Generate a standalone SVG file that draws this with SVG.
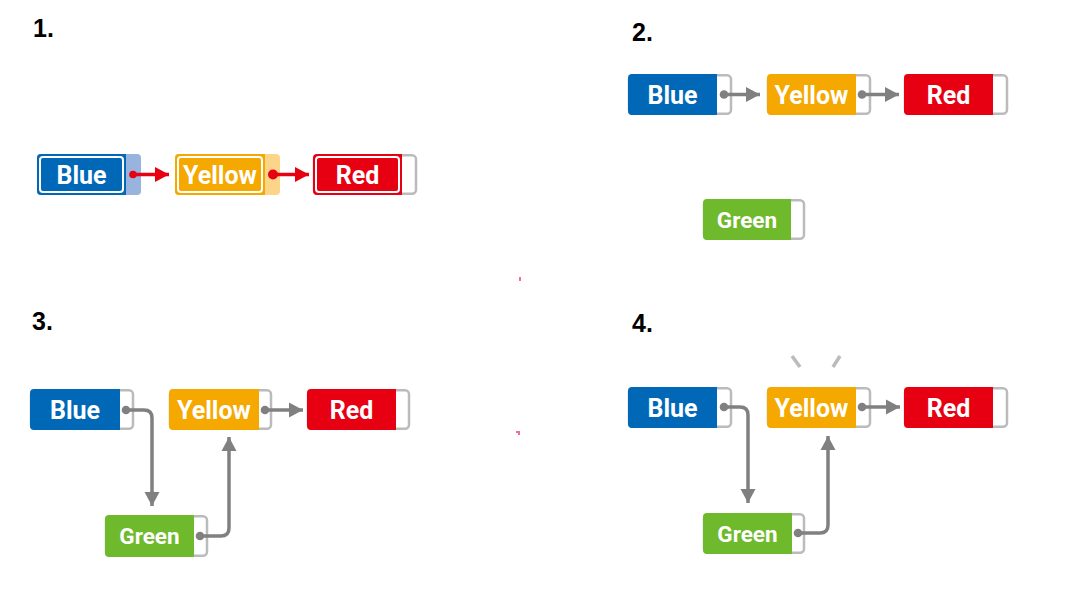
<svg xmlns="http://www.w3.org/2000/svg" width="1070" height="611" viewBox="0 0 1070 611">
<style>
.num{font-family:"Liberation Sans",Arial,sans-serif;font-weight:bold;font-size:25px;fill:#000}
.lbl{font-family:Roboto,"DejaVu Sans",sans-serif;font-weight:bold;font-size:25px;fill:#fff;text-anchor:middle}
.lbls{font-family:Roboto,"DejaVu Sans",sans-serif;font-weight:bold;font-size:22.5px;fill:#fff;text-anchor:middle}
.ptr{fill:#fff;stroke:#bbb;stroke-width:2.5}
.blue{fill:#0068b7}.yellow{fill:#f5a800}.red{fill:#e60012}.green{fill:#6fb92c}
.inner{fill:none;stroke:#fff;stroke-width:2}
.con{fill:none;stroke:#808080;stroke-width:3.5;marker-start:url(#dot);marker-end:url(#arr)}
.conr{fill:none;stroke:#e60012;stroke-width:3.5;marker-end:url(#arrr)}
.spark{stroke:#bbb;stroke-width:3.5}
</style>
<defs>
<marker id="dot" markerUnits="userSpaceOnUse" markerWidth="10" markerHeight="10" refX="5" refY="5" orient="auto" overflow="visible"><circle cx="5" cy="5" r="4.3" fill="#808080"/></marker>
<marker id="arr" markerUnits="userSpaceOnUse" markerWidth="15" markerHeight="15" refX="14" refY="7.5" orient="auto" overflow="visible"><path d="M0,0 L14,7.5 L0,15 Z" fill="#808080"/></marker>
<marker id="arrr" markerUnits="userSpaceOnUse" markerWidth="15" markerHeight="15" refX="14" refY="7.5" orient="auto" overflow="visible"><path d="M0,0 L14,7.5 L0,15 Z" fill="#e60012"/></marker>
</defs>

<text class="num" x="33" y="37">1.</text>
<text class="num" x="632" y="41">2.</text>
<text class="num" x="32" y="330">3.</text>
<text class="num" x="632" y="332">4.</text>

<!-- Panel 1 -->
<g id="p1-blue">
<rect x="37" y="154" width="104" height="41" rx="4" fill="#98b3dd"/>
<path d="M41,154 H126 V195 H41 A4,4 0 0 1 37,191 V158 A4,4 0 0 1 41,154 Z" class="blue"/>
<rect x="40" y="157" width="83" height="35" rx="3" class="inner"/>
<text class="lbl" x="81.5" y="183.5">Blue</text>
</g>
<g id="p1-yellow">
<rect x="175" y="154" width="105" height="41" rx="4" fill="#fcd588"/>
<path d="M179,154 H265 V195 H179 A4,4 0 0 1 175,191 V158 A4,4 0 0 1 179,154 Z" class="yellow"/>
<rect x="178" y="157" width="84" height="35" rx="3" class="inner"/>
<text class="lbl" x="220" y="183.5">Yellow</text>
</g>
<g id="p1-red">
<rect x="314" y="155.25" width="102" height="38.5" rx="4" class="ptr"/>
<path d="M317,154 H402 V195 H317 A4,4 0 0 1 313,191 V158 A4,4 0 0 1 317,154 Z" class="red"/>
<rect x="316" y="157" width="83" height="35" rx="3" class="inner"/>
<text class="lbl" x="357.5" y="183.5">Red</text>
</g>
<g id="p1-connectors">
<path class="conr" d="M133,174.5 H169"/>
<circle cx="133" cy="174.5" r="3.8" fill="#e60012"/>
<path class="conr" d="M273,174.5 H309"/>
<circle cx="273" cy="174.5" r="5" fill="#e60012"/>
</g>

<!-- Panel 2 -->
<g id="p2-blue">
<rect x="629" y="75.25" width="102" height="38.5" rx="4" class="ptr"/>
<path d="M632,74 H717 V115 H632 A4,4 0 0 1 628,111 V78 A4,4 0 0 1 632,74 Z" class="blue"/>
<text class="lbl" x="672.5" y="103.5">Blue</text>
</g>
<g id="p2-yellow">
<rect x="768" y="75.25" width="102" height="38.5" rx="4" class="ptr"/>
<path d="M771,74 H856 V115 H771 A4,4 0 0 1 767,111 V78 A4,4 0 0 1 771,74 Z" class="yellow"/>
<text class="lbl" x="811.5" y="103.5">Yellow</text>
</g>
<g id="p2-red">
<rect x="905" y="75.25" width="102" height="38.5" rx="4" class="ptr"/>
<path d="M908,74 H993 V115 H908 A4,4 0 0 1 904,111 V78 A4,4 0 0 1 908,74 Z" class="red"/>
<text class="lbl" x="948.5" y="103.5">Red</text>
</g>
<g id="p2-green">
<rect x="704" y="200.25" width="100" height="38.5" rx="4" class="ptr"/>
<path d="M707,199 H791 V240 H707 A4,4 0 0 1 703,236 V203 A4,4 0 0 1 707,199 Z" class="green"/>
<text class="lbls" x="747" y="227.5">Green</text>
</g>
<g id="p2-connectors">
<path class="con" d="M724,94.5 H760"/>
<path class="con" d="M862,94.5 H899"/>
</g>

<!-- Panel 3 -->
<g id="p3-blue">
<rect x="31" y="390.25" width="102" height="38.5" rx="4" class="ptr"/>
<path d="M34,389 H120 V430 H34 A4,4 0 0 1 30,426 V393 A4,4 0 0 1 34,389 Z" class="blue"/>
<text class="lbl" x="75" y="418.5">Blue</text>
</g>
<g id="p3-yellow">
<rect x="170" y="390.25" width="101" height="38.5" rx="4" class="ptr"/>
<path d="M173,389 H259 V430 H173 A4,4 0 0 1 169,426 V393 A4,4 0 0 1 173,389 Z" class="yellow"/>
<text class="lbl" x="214" y="418.5">Yellow</text>
</g>
<g id="p3-red">
<rect x="308" y="390.25" width="101" height="38.5" rx="4" class="ptr"/>
<path d="M311,389 H396 V430 H311 A4,4 0 0 1 307,426 V393 A4,4 0 0 1 311,389 Z" class="red"/>
<text class="lbl" x="351.5" y="418.5">Red</text>
</g>
<g id="p3-green">
<rect x="106" y="516.25" width="101" height="39.5" rx="4" class="ptr"/>
<path d="M109,515 H194 V557 H109 A4,4 0 0 1 105,553 V519 A4,4 0 0 1 109,515 Z" class="green"/>
<text class="lbls" x="149.5" y="544">Green</text>
</g>
<g id="p3-connectors">
<path class="con" d="M126,410 H144 Q152,410 152,418 V506"/>
<path class="con" d="M200,536 H221 Q229,536 229,528 V437"/>
<path class="con" d="M265,410 H303"/>
</g>

<!-- Panel 4 -->
<g id="p4-blue">
<rect x="629" y="388.25" width="102" height="38.5" rx="4" class="ptr"/>
<path d="M632,387 H717 V428 H632 A4,4 0 0 1 628,424 V391 A4,4 0 0 1 632,387 Z" class="blue"/>
<text class="lbl" x="672.5" y="416.5">Blue</text>
</g>
<g id="p4-yellow">
<rect x="768" y="388.25" width="102" height="38.5" rx="4" class="ptr"/>
<path d="M771,387 H856 V428 H771 A4,4 0 0 1 767,424 V391 A4,4 0 0 1 771,387 Z" class="yellow"/>
<text class="lbl" x="811.5" y="416.5">Yellow</text>
</g>
<g id="p4-red">
<rect x="905" y="388.25" width="102" height="38.5" rx="4" class="ptr"/>
<path d="M908,387 H993 V428 H908 A4,4 0 0 1 904,424 V391 A4,4 0 0 1 908,387 Z" class="red"/>
<text class="lbl" x="948.5" y="416.5">Red</text>
</g>
<g id="p4-green">
<rect x="704" y="514.25" width="100" height="38.5" rx="4" class="ptr"/>
<path d="M707,513 H792 V554 H707 A4,4 0 0 1 703,550 V517 A4,4 0 0 1 707,513 Z" class="green"/>
<text class="lbls" x="747.5" y="541.5">Green</text>
</g>
<g id="p4-connectors">
<path class="con" d="M724,407 H740 Q748,407 748,415 V503"/>
<path class="con" d="M798,533 H820 Q828,533 828,525 V436"/>
<path class="con" d="M862,407 H900"/>
<line class="spark" x1="792" y1="356" x2="800" y2="367"/>
<line class="spark" x1="840" y1="356" x2="833" y2="367"/>
</g>

<rect x="519" y="277" width="2" height="4" fill="#f07090"/>
<path d="M516,431 H520 V435 H518 V433 H516 Z" fill="#f07090"/>
</svg>
